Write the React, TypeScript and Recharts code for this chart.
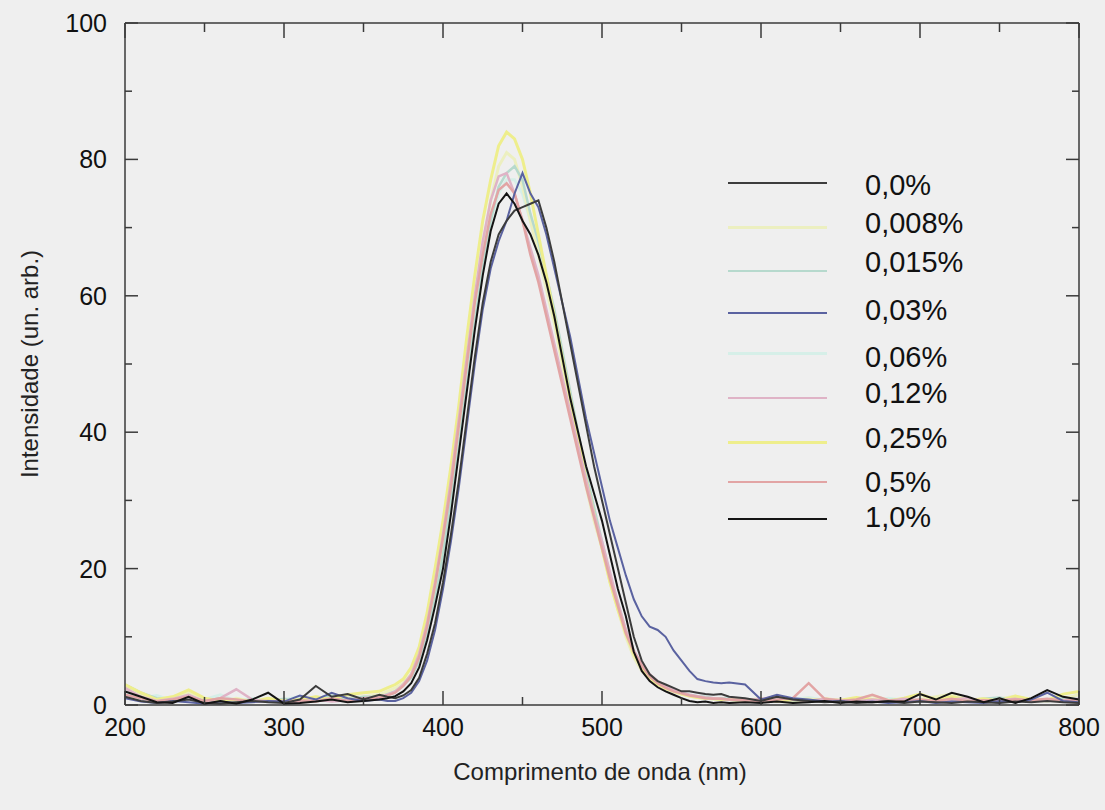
import React from "react";
import { Line, LineChart, XAxis, YAxis } from "recharts";

// comprimento de onda (nm): 10 nm no fundo, 5 nm na banda
const wavelengths = [
  200, 210, 220, 230, 240, 250, 260, 270, 280, 290, 300, 310, 320, 330, 340, 350,
  360, 365, 370, 375, 380, 385, 390, 395, 400, 405, 410, 415, 420, 425, 430, 435, 440, 445, 450, 455, 460, 465,
  470, 475, 480, 485, 490, 495, 500, 505, 510, 515, 520, 525, 530, 535, 540, 545, 550, 555, 560, 565, 570, 575, 580,
  590, 600, 610, 620, 630, 640, 650, 660, 670, 680, 690, 700, 710, 720, 730, 740, 750, 760, 770, 780, 790, 800,
];

const s00 = [
  1.2, 0.6, 0.3, 0.5, 0.8, 0.3, 0.2, 0.4, 0.6, 0.4, 0.3, 0.8, 2.8, 1.2, 1.6, 0.8,
  1.5, 1.2, 1, 1.4, 2.2, 4, 7.5, 12, 18, 25, 33, 42, 51, 59, 65, 69, 71, 72.5, 73, 73.5, 74, 70,
  65, 59, 53, 47, 41, 35, 30, 25, 20, 15, 10, 6.5, 4.5, 3.5, 3, 2.5, 2, 2, 1.8, 1.6, 1.5, 1.6, 1.2,
  1, 0.6, 1.2, 0.8, 0.6, 0.4, 0.5, 0.3, 0.4, 0.6, 0.3, 0.5, 0.4, 0.3, 0.5, 0.4, 0.3, 0.5, 0.4, 0.6, 0.4, 0.3,
];
const s008 = [
  2.5, 1.5, 0.8, 1.2, 1.8, 0.6, 0.4, 1, 0.5, 0.8, 0.4, 0.6, 1.2, 0.8, 1, 1.2,
  1.5, 2, 2.5, 3.2, 4.5, 7, 11.5, 17, 24, 32, 41, 50, 59, 67, 74, 79, 81, 80, 76, 71, 66, 61,
  56, 50, 44, 38, 32, 27, 23, 18, 14, 10, 7, 5, 3.8, 3, 2.4, 2, 1.6, 1.3, 1.1, 1, 0.9, 0.8, 0.8,
  0.6, 0.8, 0.5, 0.7, 0.9, 0.5, 0.6, 0.8, 1.4, 0.7, 0.5, 0.8, 1.2, 1.6, 0.8, 0.6, 0.9, 1.3, 0.7, 0.6, 0.9, 1.5,
];
const s015 = [
  3, 1.8, 1, 0.8, 1.4, 0.6, 1, 0.5, 0.8, 0.6, 0.9, 0.5, 1, 1.4, 0.8, 1.2,
  1.2, 1.6, 2, 2.8, 4, 6.5, 10.5, 15.5, 22, 30, 38, 47, 56, 64, 71, 76, 78, 79, 77, 72, 68, 63,
  58, 52, 46, 40, 34, 29, 24, 19, 15, 11, 8, 5.5, 4, 3.2, 2.6, 2.2, 1.8, 1.5, 1.3, 1.2, 1, 1, 0.9,
  0.8, 0.6, 0.9, 0.7, 0.5, 0.8, 0.6, 0.9, 0.5, 0.7, 0.9, 0.6, 0.8, 0.5, 0.7, 0.9, 1.1, 0.6, 0.8, 0.7, 1, 0.8,
];
const s03 = [
  1, 0.5, 0.3, 0.6, 0.4, 0.2, 0.5, 0.3, 0.4, 0.6, 0.5, 1.4, 0.8, 1.8, 1, 0.6,
  0.8, 0.6, 0.6, 1, 1.8, 3.5, 6.5, 11, 17, 24, 32, 41, 50, 58, 64, 68, 71, 75, 78, 75, 73, 69,
  64, 59, 54, 48, 42, 37, 32, 27, 23, 19, 15.5, 13, 11.5, 11, 10, 8, 6.5, 5, 3.8, 3.5, 3.3, 3.2, 3.3,
  3, 0.8, 1.5, 1, 0.8, 0.5, 0.6, 0.4, 0.5, 0.3, 0.4, 0.6, 0.3, 0.5, 0.4, 0.3, 0.6, 0.4, 0.8, 1.8, 0.6, 0.4,
];
const s06 = [
  2, 1, 1.4, 0.6, 1, 0.8, 1.5, 0.6, 1, 0.5, 0.8, 1.2, 0.6, 1, 1.5, 0.8,
  1.2, 1.5, 2, 3, 4.2, 6.8, 11, 16.5, 23, 31, 40, 49, 57, 65, 71, 75, 77, 77, 75, 71, 67, 62,
  57, 51, 45, 39, 33, 28, 23, 18.5, 14.5, 10.5, 7.5, 5.2, 3.8, 3, 2.4, 2, 1.7, 1.4, 1.2, 1, 0.9, 1, 0.8,
  0.7, 0.9, 0.6, 0.8, 1.1, 0.7, 0.5, 0.8, 0.6, 1, 0.7, 0.6, 0.9, 0.7, 0.5, 0.8, 0.6, 1.2, 0.8, 0.6, 0.9, 1.4,
];
const s12 = [
  2.5, 1.2, 0.6, 0.9, 1.5, 0.5, 1, 2.3, 0.8, 0.5, 0.6, 0.4, 0.8, 0.5, 0.7, 1,
  1.2, 1.5, 2, 3, 4.5, 7.5, 12, 18, 25, 33, 42, 51, 60, 68, 74, 77.5, 78, 75, 71, 67, 63, 58,
  53, 48, 43, 38, 33, 28, 24, 19.5, 15, 11, 8, 6, 4.5, 3.5, 2.7, 2.2, 1.8, 1.5, 1.3, 1.1, 1, 0.9, 0.8,
  0.7, 0.9, 1.2, 0.8, 0.6, 0.9, 0.7, 0.5, 0.8, 0.6, 0.9, 0.7, 0.5, 0.8, 1, 0.6, 0.7, 0.9, 0.6, 0.8, 0.7, 0.9,
];
const s25 = [
  3, 1.8, 0.8, 1.2, 2.2, 1, 0.6, 0.8, 0.5, 1, 0.6, 0.8, 1.2, 0.8, 1.5, 1.8,
  2, 2.5, 3, 3.8, 5.5, 8.5, 13.5, 20, 27, 35, 44, 54, 63, 71, 77, 82, 84, 83, 80, 75, 69, 63,
  57, 51, 45, 39, 33, 28, 23, 18, 14, 10.5, 7.5, 5.5, 4, 3, 2.4, 2, 1.6, 1.3, 1.1, 1, 0.9, 0.8, 0.8,
  0.7, 0.9, 0.6, 0.8, 0.6, 0.9, 0.7, 1.1, 0.8, 0.6, 1, 1.6, 0.8, 1.2, 0.7, 0.9, 0.6, 1.3, 0.8, 0.7, 1.6, 2,
];
const s5 = [
  1.5, 1, 0.5, 0.8, 1.2, 0.6, 1, 0.8, 0.5, 0.6, 0.4, 0.7, 0.5, 1, 0.6, 0.9,
  1.1, 1.4, 1.8, 2.8, 4.2, 7, 11.5, 17.5, 24.5, 32, 41, 50, 59, 66, 72, 75.5, 76.5, 75, 71, 66, 62, 57,
  52, 47, 42, 37, 32, 27.5, 23, 18.5, 14.5, 10.5, 7.8, 5.8, 4.2, 3.2, 2.5, 2, 1.7, 1.4, 1.2, 1, 0.9, 0.9, 0.8,
  0.7, 0.6, 0.8, 1, 3.2, 0.9, 0.6, 0.8, 1.5, 0.7, 0.5, 0.8, 0.6, 0.9, 0.5, 0.7, 0.6, 0.8, 0.7, 0.9, 0.6, 0.8,
];
const s10 = [
  2, 1.2, 0.4, 0.3, 1.2, 0.2, 0.6, 0.2, 0.8, 1.8, 0.2, 0.3, 0.5, 0.8, 0.4, 0.6,
  0.8, 1, 1.3, 2, 3.2, 5.5, 9.5, 14.5, 20, 28, 37, 46, 55, 63, 69.5, 73.5, 75, 73.5, 71, 69, 66, 62,
  57, 51, 45, 40, 35, 31, 27, 22, 17, 13, 7.8, 5, 3.5, 2.6, 2, 1.5, 1, 0.6, 0.4, 0.5, 0.3, 0.4, 0.3,
  0.4, 0.3, 0.5, 0.3, 0.4, 0.6, 0.3, 0.5, 0.4, 0.5, 0.5, 1.6, 0.8, 1.8, 1.2, 0.4, 1, 0.3, 1, 2.2, 1.2, 0.8,
];

const seriesNames = ["0,0%", "0,008%", "0,015%", "0,03%", "0,06%", "0,12%", "0,25%", "0,5%", "1,0%"];
const seriesValues = [s00, s008, s015, s03, s06, s12, s25, s5, s10];
const colors = ["#3c3c3c", "#ecefc0", "#b6d9cd", "#5a62a0", "#d6efe8", "#dfb3c6", "#eeee8c", "#e2a4a4", "#141414"];
const widths = [2, 3, 2.5, 2, 3, 2.5, 3, 2.5, 2];
// ordem de desenho: claras por baixo, escuras por cima
const drawOrder = [4, 1, 2, 6, 5, 7, 3, 0, 8];

const xTicks = [200, 250, 300, 350, 400, 450, 500, 550, 600, 650, 700, 750, 800];
const yTicks = [0, 10, 20, 30, 40, 50, 60, 70, 80, 90, 100];

const data = wavelengths.map((w, i) => {
  const row: Record<string, number> = { w };
  seriesValues.forEach((vals, k) => (row["s" + k] = vals[i]));
  return row;
});

const font = "'Liberation Sans', Arial, sans-serif";
const axisColor = "#3a3a3a";

const BottomTick = ({ x, y, payload }: any) => {
  const major = payload.value % 100 === 0;
  return (
    <g>
      <line x1={x} x2={x} y1={y} y2={y - (major ? 14 : 8)} stroke={axisColor} strokeWidth={1.5} />
      {major && (
        <text x={x} y={y + 31} textAnchor="middle" fontSize={25} fill="#111" fontFamily={font}>
          {payload.value}
        </text>
      )}
    </g>
  );
};

const TopTick = ({ x, y, payload }: any) => {
  const major = payload.value % 100 === 0;
  return <line x1={x} x2={x} y1={y} y2={y + (major ? 15 : 9)} stroke={axisColor} strokeWidth={1.5} />;
};

const LeftTick = ({ x, y, payload }: any) => {
  const major = payload.value % 20 === 0;
  return (
    <g>
      <line x1={x} x2={x + (major ? 13 : 7)} y1={y} y2={y} stroke={axisColor} strokeWidth={1.5} />
      {major && (
        <text x={x - 18} y={y + 9} textAnchor="end" fontSize={25} fill="#111" fontFamily={font}>
          {payload.value}
        </text>
      )}
    </g>
  );
};

const RightTick = ({ x, y, payload }: any) => {
  const major = payload.value % 20 === 0;
  return <line x1={x} x2={x - (major ? 13 : 7)} y1={y} y2={y} stroke={axisColor} strokeWidth={1.5} />;
};

// posições da legenda (y da linha, y do texto)
const legendRows = [
  [183, 185], [227, 223], [271, 262], [313, 310], [353, 357], [398, 393], [442, 438], [482, 482], [519, 517],
];

export default function App() {
  return (
    <div style={{ position: "absolute", left: 0, top: 0, width: 1105, height: 810, background: "#efefef", fontFamily: font }}>
      <LineChart width={1105} height={810} data={data} margin={{ top: 22, right: 25, bottom: 45, left: 65 }}>
        <XAxis xAxisId="b" dataKey="w" type="number" domain={[200, 800]} allowDataOverflow ticks={xTicks} interval={0}
          orientation="bottom" height={60} tickSize={0} tickMargin={0} tickLine={false}
          axisLine={{ stroke: axisColor, strokeWidth: 1.5 }} tick={<BottomTick />} />
        <XAxis xAxisId="t" dataKey="w" type="number" domain={[200, 800]} allowDataOverflow ticks={xTicks} interval={0}
          orientation="top" height={1} tickSize={0} tickMargin={0} tickLine={false}
          axisLine={{ stroke: axisColor, strokeWidth: 1.5 }} tick={<TopTick />} />
        <YAxis yAxisId="l" type="number" domain={[0, 100]} allowDataOverflow ticks={yTicks} interval={0}
          orientation="left" width={60} tickSize={0} tickMargin={0} tickLine={false}
          axisLine={{ stroke: axisColor, strokeWidth: 1.5 }} tick={<LeftTick />} />
        <YAxis yAxisId="r" type="number" domain={[0, 100]} allowDataOverflow ticks={yTicks} interval={0}
          orientation="right" width={1} tickSize={0} tickMargin={0} tickLine={false}
          axisLine={{ stroke: axisColor, strokeWidth: 1.5 }} tick={<RightTick />} />
        {drawOrder.map((k) => (
          <Line key={k} xAxisId="b" yAxisId="l" type="linear" dataKey={"s" + k} name={seriesNames[k]}
            stroke={colors[k]} strokeWidth={widths[k]} dot={false} isAnimationActive={false} />
        ))}
      </LineChart>

      <div style={{ position: "absolute", left: 30, top: 364, transform: "translate(-50%, -50%) rotate(-90deg)",
        whiteSpace: "nowrap", fontSize: 24, color: "#222" }}>
        Intensidade (un. arb.)
      </div>
      <div style={{ position: "absolute", left: 600, top: 772, transform: "translate(-50%, -50%)",
        whiteSpace: "nowrap", fontSize: 24, color: "#222" }}>
        Comprimento de onda (nm)
      </div>

      {seriesNames.map((name, k) => (
        <React.Fragment key={name}>
          <div style={{ position: "absolute", left: 728, top: legendRows[k][0] - widths[k] / 2, width: 99,
            height: widths[k], background: colors[k] }} />
          <div style={{ position: "absolute", left: 865, top: legendRows[k][1], transform: "translateY(-50%)",
            fontSize: 29, color: "#111", lineHeight: 1 }}>
            {name}
          </div>
        </React.Fragment>
      ))}
    </div>
  );
}
